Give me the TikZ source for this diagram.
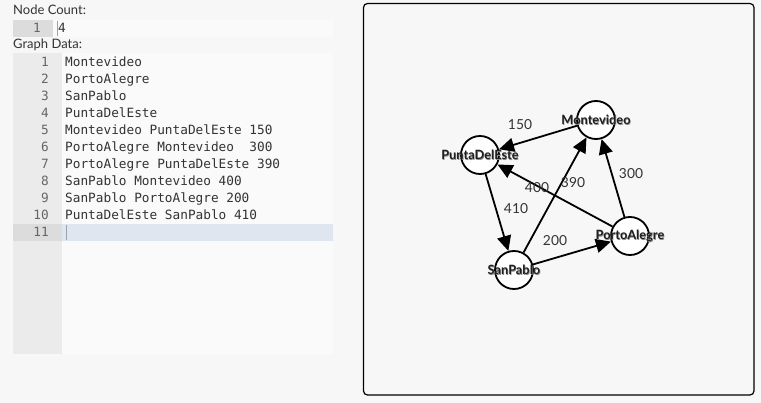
\documentclass[tikz,border=0pt]{standalone}
\usepackage{fontspec}
\setmainfont{Lato}
\newfontfamily\codefont{DejaVu Sans Mono}
\usetikzlibrary{arrows.meta}
\definecolor{pagebg}{HTML}{F7F7F7}
\definecolor{edbg}{HTML}{FAFAFA}
\definecolor{gutter}{HTML}{EBEBEB}
\definecolor{gutteract}{HTML}{DCDCDC}
\definecolor{actline}{HTML}{DFE6EF}
\definecolor{txt}{HTML}{333333}
\definecolor{lnum}{HTML}{666666}
\definecolor{cursorc}{HTML}{9AA3AE}
\tikzset{
  x=1pt, y=-1pt,
  uilabel/.style={anchor=base west, inner sep=0pt, text=txt, font=\fontsize{13}{15}\selectfont},
  codeline/.style={anchor=base west, inner sep=0pt, text=txt, font=\codefont\fontsize{12.75}{15}\selectfont},
  linenum/.style={anchor=base east, inner sep=0pt, text=lnum, font=\codefont\fontsize{12.75}{15}\selectfont},
  vtx/.style={circle, draw=black, line width=1.8pt, fill=white, minimum size=38pt, inner sep=0pt},
  vlab/.style={inner sep=0pt, text=black!88, font=\bfseries\fontsize{12.8}{14}\selectfont},
  vshadow/.style={inner sep=0pt, text=black!45, font=\bfseries\fontsize{12.8}{14}\selectfont, xshift=0.6pt, yshift=-0.6pt},
  elab/.style={inner sep=0pt, text=txt, font=\fontsize{13.8}{15}\selectfont},
  edge/.style={line width=1.8pt, draw=black, -{Triangle[length=15pt,width=14pt]}},
}
\begin{document}
\begin{tikzpicture}
\useasboundingbox (0,0) rectangle (761,403);
\fill[pagebg] (0,0) rectangle (761,403);
% ---- left panel ----
\node[uilabel] (nclabel) at (13,15) {Node Count:};
\fill[edbg] (53,20) rectangle (333,37);
\fill[gutteract] (13,20) rectangle (53,37);
\node[linenum] (ncnum) at (41,33) {1};
\node[codeline] (ncval) at (58,33) {4};
\draw[cursorc, line width=1pt] (57.5,21) -- (57.5,36);
\node[uilabel] (gdlabel) at (13,49) {Graph Data:};
\fill[edbg] (62,53) rectangle (333,354);
\fill[gutter] (13,53) rectangle (62,354);
\fill[gutteract] (13,224) rectangle (62,241);
\fill[actline] (62,224) rectangle (333,241);
\draw[cursorc, line width=1pt] (66,225) -- (66,240);
\foreach \i/\t in {1/Montevideo, 2/PortoAlegre, 3/SanPablo, 4/PuntaDelEste,
  5/Montevideo PuntaDelEste 150, 6/PortoAlegre Montevideo\ \ 300,
  7/PortoAlegre PuntaDelEste 390, 8/SanPablo Montevideo 400,
  9/SanPablo PortoAlegre 200, 10/PuntaDelEste SanPablo 410}{
  \node[linenum] (ln\i) at (49,{66.5+17*(\i-1)}) {\i};
  \node[codeline] (cl\i) at (65,{66.5+17*(\i-1)}) {\t};
}
\node[linenum] (ln11) at (49,236.5) {11};
% ---- right panel ----
\draw[black, line width=1.2pt, rounded corners=4pt, fill=pagebg] (363.5,3.5) rectangle (754,395);
\node[vtx] (mv) at (596,120) {};
\node[vtx] (pe) at (480,155) {};
\node[vtx] (sp) at (514,270) {};
\node[vtx] (pa) at (630,236) {};
\draw[edge] (mv) -- (pe);
\draw[edge] (pa) -- (mv);
\draw[edge] (pa) -- (pe);
\draw[edge] (sp) -- (mv);
\draw[edge] (sp) -- (pa);
\draw[edge] (pe) -- (sp);
\node[vshadow] (mvs) at (mv) {Montevideo};
\node[vshadow] (pes) at (pe) {PuntaDelEste};
\node[vshadow] (sps) at (sp) {SanPablo};
\node[vshadow] (pas) at (pa) {PortoAlegre};
\node[vlab] (mvl) at (mv) {Montevideo};
\node[vlab] (pel) at (pe) {PuntaDelEste};
\node[vlab] (spl) at (sp) {SanPablo};
\node[vlab] (pal) at (pa) {PortoAlegre};
\node[elab] (w150) at (520,125) {150};
\node[elab] (w300) at (631,174) {300};
\node[elab] (w400) at (537,188) {400};
\node[elab] (w390) at (573,183) {390};
\node[elab] (w410) at (516,209) {410};
\node[elab] (w200) at (555,241) {200};
\end{tikzpicture}
\end{document}
